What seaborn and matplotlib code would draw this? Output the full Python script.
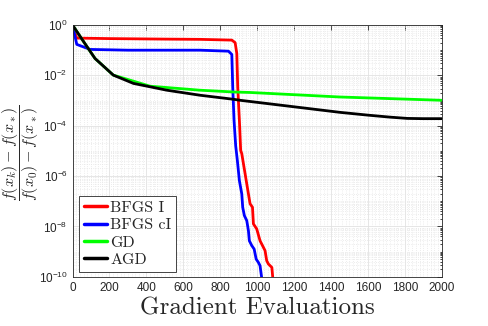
import numpy as np
import pandas as pd
import seaborn as sns
import matplotlib.pyplot as plt
from matplotlib.ticker import LogLocator, MultipleLocator, NullFormatter

# ------------------------------- DATA -----------------------------------------
# values, stored as log10 of the relative error
bfgs_i_x = [0, 23, 200, 500, 691, 863, 881, 890, 895, 904, 911, 917, 935, 953,
            962, 975, 980, 998, 1016, 1025, 1043, 1052, 1061, 1080, 1085]
bfgs_i_log = [0, -0.52, -0.54, -0.56, -0.57, -0.60, -0.70, -1.13, -2.46, -3.78,
              -4.98, -5.11, -5.91, -6.71, -7.10, -7.24, -7.90, -8.10, -8.57,
              -8.70, -8.96, -9.36, -9.49, -9.63, -10.05]

bfgs_ci_x = [0, 23, 95, 300, 691, 845, 863, 868, 875, 884, 893, 904, 917, 922,
             931, 944, 953, 958, 971, 984, 995, 1007, 1016, 1025]
bfgs_ci_log = [0, -0.77, -0.97, -1.0, -1.0, -1.04, -1.17, -2.46, -3.78, -4.8,
               -5.38, -6.18, -6.71, -7.24, -7.57, -7.77, -8.17, -8.57, -8.76,
               -8.90, -9.30, -9.43, -9.56, -10.05]

gd_x = [0, 60, 122, 221, 330, 420, 691, 872, 962, 1450, 2000]
gd_log = [0, -0.66, -1.33, -1.99, -2.23, -2.43, -2.59, -2.66, -2.68, -2.86, -2.99]

agd_x = [0, 60, 122, 221, 330, 511, 691, 872, 908, 1179, 1450, 1600, 1721,
         1814, 1900, 2000]
agd_log = [0, -0.66, -1.33, -1.99, -2.32, -2.59, -2.79, -2.95, -2.99, -3.23,
           -3.47, -3.58, -3.66, -3.71, -3.72, -3.72]

labels = ['BFGS I', 'BFGS cI', 'GD', 'AGD']
colors = ['#ff0000', '#0000ff', '#00ff00', '#000000']

# ------------------------------------------------------------------------------
sns.set_style('white')
plt.rcParams['font.family'] = ['Liberation Sans', 'DejaVu Sans']
plt.rcParams['mathtext.fontset'] = 'custom'
plt.rcParams['mathtext.rm'] = 'Liberation Sans'
plt.rcParams['mathtext.it'] = 'Liberation Sans:italic'
plt.rcParams['axes.unicode_minus'] = False

fig = plt.figure(figsize=(4.88, 3.26), dpi=100)
ax = fig.add_axes([0.1486, 0.151, 0.7565, 0.7723])

series = [(bfgs_i_x, bfgs_i_log), (bfgs_ci_x, bfgs_ci_log), (gd_x, gd_log), (agd_x, agd_log)]
for (xs, ls), lab, col in zip(series, labels, colors):
    df = pd.DataFrame({'x': xs, 'y': 10.0 ** np.array(ls)})
    sns.lineplot(data=df, x='x', y='y', ax=ax, color=col, linewidth=2.0,
                 label=lab, sort=False)

ax.set_yscale('log')
ax.set_xlim(0, 2000)
ax.set_ylim(1e-10, 1)
ax.xaxis.set_major_locator(MultipleLocator(200))
ax.xaxis.set_minor_locator(MultipleLocator(20))
ax.set_yticks([1e-10, 1e-8, 1e-6, 1e-4, 1e-2, 1])
ax.yaxis.set_minor_locator(LogLocator(base=10, subs=np.arange(1, 10), numticks=20))
ax.yaxis.set_minor_formatter(NullFormatter())

# grids: faint solid major lines, dotted minor lines
ax.grid(which='major', color='#e2e2e2', linewidth=0.6, linestyle='-')
ax.grid(which='minor', color='#e6e6e6', linewidth=0.6, linestyle=':')
ax.set_axisbelow(True)

ax.tick_params(which='both', direction='in', top=True, right=True,
               labelsize=8.5, colors='#262626', width=0.6)
ax.tick_params(which='major', length=3.5)
ax.tick_params(which='minor', length=1.8)
ax.tick_params(axis='x', which='minor', length=0)
for s in ax.spines.values():
    s.set_color('#262626')
    s.set_linewidth(0.6)

ax.set_xlabel('Gradient Evaluations', fontfamily='cmr10', fontsize=18, labelpad=3)
ax.set_ylabel(r'$\dfrac{f(x_k)-f(x_*)}{f(x_0)-f(x_*)}$', fontsize=11.5,
              math_fontfamily='cm')
ax.yaxis.set_label_coords(-0.085, 0.49)

leg = ax.legend(loc='lower left', bbox_to_anchor=(0.018, 0.02), borderaxespad=0,
                prop={'family': 'cmr10', 'size': 11.5}, handlelength=1.45,
                handletextpad=0.2, labelspacing=0.2, borderpad=0.3,
                fancybox=False, framealpha=1, edgecolor='#262626')
leg.get_frame().set_linewidth(0.6)
for h in leg.get_lines():
    h.set_linewidth(2.5)

fig.savefig('out.png', dpi=100)
